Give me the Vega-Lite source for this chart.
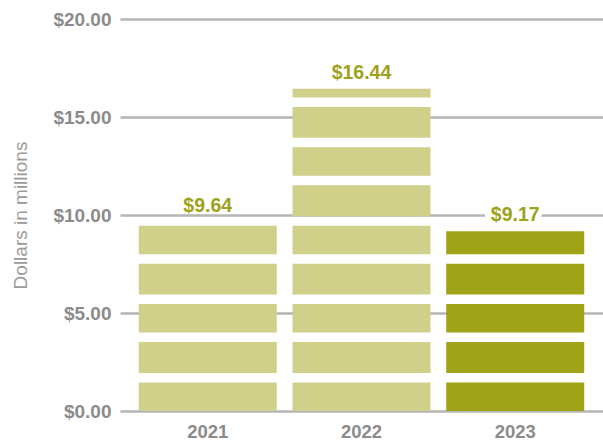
{
  "$schema": "https://vega.github.io/schema/vega-lite/v6.json",
  "width": 483,
  "height": 392,
  "autosize": {"type": "none"},
  "padding": {"left": 120, "top": 19, "right": 0, "bottom": 30},
  "background": "#ffffff",
  "config": {"view": {"stroke": null}},
  "data": {"values": [
    {"year": "2021", "value": 9.64},
    {"year": "2022", "value": 16.44},
    {"year": "2023", "value": 9.17}
  ]},
  "encoding": {
    "x": {
      "field": "year", "type": "nominal",
      "scale": {"paddingInner": 0.104, "paddingOuter": 0.123},
      "axis": {
        "title": null, "domain": false, "ticks": false, "labelAngle": 0,
        "labelFont": "Liberation Sans, sans-serif",
        "labelFontSize": 18.5, "labelFontWeight": "bold", "labelColor": "#8b8b8b",
        "labelPadding": 11
      }
    }
  },
  "layer": [
    {
      "transform": [{"stack": "value", "groupby": ["year"], "as": ["v0", "v1"]}],
      "mark": {"type": "rule", "strokeWidth": 138, "strokeDash": [28.5, 9.5, 30.9, 9.5], "strokeCap": "butt"},
      "encoding": {
        "y": {
          "field": "v0", "type": "quantitative",
          "scale": {"domain": [0, 20]},
          "axis": {
            "values": [0, 5, 10, 15, 20], "format": "$.2f",
            "domain": false, "ticks": false,
            "labelFont": "Liberation Sans, sans-serif",
            "labelFontSize": 19, "labelFontWeight": "bold", "labelColor": "#8b8b8b",
            "labelPadding": 9,
            "gridColor": "#b5b5b5", "gridWidth": 2.5,
            "title": "Dollars in millions",
            "titleFont": "Liberation Sans, sans-serif", "titleFontSize": 19,
            "titleFontWeight": "normal", "titleColor": "#9a9a9a",
            "titleX": -100, "titleY": 196, "titleAlign": "center", "titleBaseline": "middle"
          }
        },
        "y2": {"field": "v1"},
        "color": {
          "field": "year", "type": "nominal",
          "scale": {"domain": ["2021", "2022", "2023"], "range": ["#d0d08b", "#d0d08b", "#a0a217"]},
          "legend": null
        }
      }
    },
    {
      "transform": [{"filter": "datum.year == '2023'"}],
      "mark": {
        "type": "text", "dy": -10, "baseline": "alphabetic",
        "font": "Liberation Sans, sans-serif",
        "fontSize": 19.5, "fontWeight": "bold",
        "fill": "#ffffff", "stroke": "#ffffff", "strokeWidth": 11
      },
      "encoding": {
        "y": {"field": "value", "type": "quantitative"},
        "text": {"field": "value", "type": "quantitative", "format": "$.2f"}
      }
    },
    {
      "mark": {
        "type": "text", "dy": -10, "baseline": "alphabetic",
        "font": "Liberation Sans, sans-serif",
        "fontSize": 19.5, "fontWeight": "bold", "color": "#9ea21a"
      },
      "encoding": {
        "y": {"field": "value", "type": "quantitative"},
        "text": {"field": "value", "type": "quantitative", "format": "$.2f"}
      }
    }
  ]
}
